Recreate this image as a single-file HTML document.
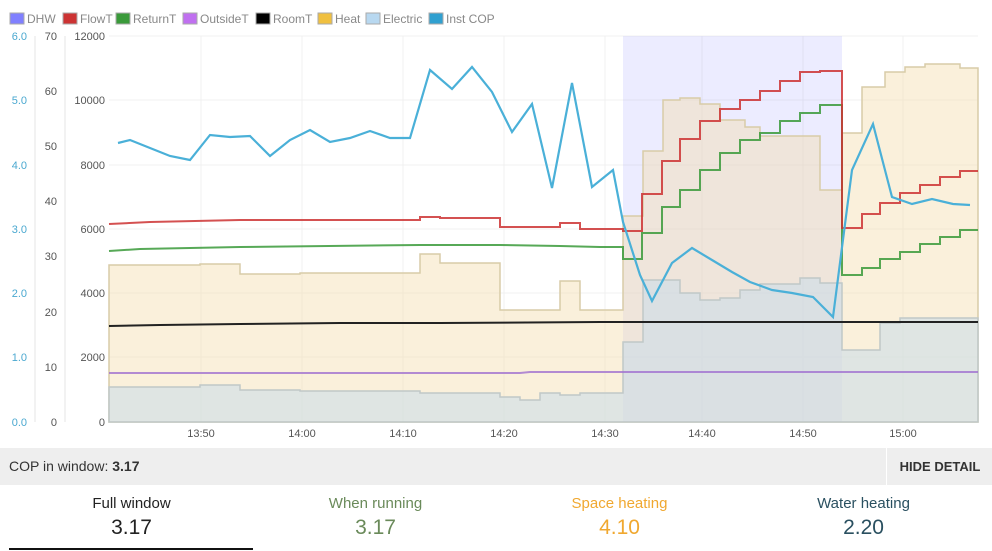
<!DOCTYPE html>
<html><head><meta charset="utf-8"><style>
body{margin:0;width:992px;height:551px;background:#fff;font-family:"Liberation Sans",sans-serif;overflow:hidden;position:relative}
.bar{position:absolute;left:0;top:448px;width:992px;height:37px;background:#eeeeee;font-size:14px;color:#333}
.bar .l{position:absolute;left:9px;top:10px}
.bar .r{position:absolute;left:886px;top:0;height:37px;border-left:1px solid #fff;width:106px;font-weight:bold;font-size:13px;line-height:37px;text-align:center;color:#333}
.st{position:absolute;top:495px;width:245px;text-align:center}
.st .a{font-size:15px}.st .b{font-size:21px;margin-top:4px}
</style></head><body>
<svg width="992" height="448" style="position:absolute;left:0;top:0" font-family="Liberation Sans, sans-serif">
<g font-size="12" fill="#888">
<rect x="10" y="13" width="14" height="11" fill="#8080ff" stroke="#aaa"/><text x="27" y="23">DHW</text>
<rect x="63" y="13" width="14" height="11" fill="#cc3333" stroke="#aaa"/><text x="80" y="23">FlowT</text>
<rect x="116" y="13" width="14" height="11" fill="#3a9a3a" stroke="#aaa"/><text x="133" y="23">ReturnT</text>
<rect x="183" y="13" width="14" height="11" fill="#c070f0" stroke="#aaa"/><text x="200" y="23">OutsideT</text>
<rect x="256" y="13" width="14" height="11" fill="#000" stroke="#aaa"/><text x="273" y="23">RoomT</text>
<rect x="318" y="13" width="14" height="11" fill="#f0c040" stroke="#aaa"/><text x="335" y="23">Heat</text>
<rect x="366" y="13" width="14" height="11" fill="#b8d8f0" stroke="#aaa"/><text x="383" y="23">Electric</text>
<rect x="429" y="13" width="14" height="11" fill="#30a0d0" stroke="#aaa"/><text x="446" y="23">Inst COP</text>
</g>
<line x1="35" y1="36" x2="35" y2="422" stroke="#e4e4e4"/>
<line x1="65" y1="36" x2="65" y2="422" stroke="#e4e4e4"/>
<g font-size="11" fill="#4aa8d0" text-anchor="end">
<text x="27" y="40">6.0</text><text x="27" y="104">5.0</text><text x="27" y="169">4.0</text><text x="27" y="233">3.0</text><text x="27" y="297">2.0</text><text x="27" y="361">1.0</text><text x="27" y="426">0.0</text></g>
<g font-size="11" fill="#555" text-anchor="end">
<text x="57" y="40">70</text><text x="57" y="95">60</text><text x="57" y="150">50</text><text x="57" y="205">40</text><text x="57" y="260">30</text><text x="57" y="316">20</text><text x="57" y="371">10</text><text x="57" y="426">0</text>
<text x="105" y="40">12000</text><text x="105" y="104">10000</text><text x="105" y="169">8000</text><text x="105" y="233">6000</text><text x="105" y="297">4000</text><text x="105" y="361">2000</text><text x="105" y="426">0</text></g>
<g stroke="#f0f0f0">
<line x1="109" y1="36" x2="978" y2="36"/><line x1="109" y1="100" x2="978" y2="100"/><line x1="109" y1="165" x2="978" y2="165"/><line x1="109" y1="229" x2="978" y2="229"/><line x1="109" y1="293" x2="978" y2="293"/><line x1="109" y1="357" x2="978" y2="357"/>
<line x1="201" y1="36" x2="201" y2="422"/><line x1="302" y1="36" x2="302" y2="422"/><line x1="403" y1="36" x2="403" y2="422"/><line x1="504" y1="36" x2="504" y2="422"/><line x1="605" y1="36" x2="605" y2="422"/><line x1="702" y1="36" x2="702" y2="422"/><line x1="803" y1="36" x2="803" y2="422"/><line x1="903" y1="36" x2="903" y2="422"/></g>
<rect x="623" y="36" width="219" height="386" fill="#8080ff" opacity="0.15"/>
<path d="M109,265 H200 V264 H240 V274 H300 V273 H420 V254 H440 V263 H500 V310 H560 V281 H580 V310 H623 V216 H643 V151 H663 V100 H680 V98 H700 V104 H720 V120 H745 V127 H760 V136 H820 V190 H842 V133 H862 V87 H885 V72 H905 V67 H925 V64 H960 V68 H978 V422 H109Z" fill="#f5deb0" fill-opacity="0.45" stroke="#d8cca8" stroke-width="1.5"/>
<path d="M109,387 H200 V385 H240 V390 H300 V391 H420 V393 H500 V397 H520 V400 H540 V393 H560 V395 H580 V393 H623 V342 H643 V280 H680 V293 H700 V300 H720 V298 H740 V290 H760 V284 H800 V278 H820 V283 H842 V350 H880 V323 H900 V318 H978 V422 H109Z" fill="#c8dcea" fill-opacity="0.55" stroke="#c0c8c8" stroke-width="1.5"/>
<polyline fill="none" stroke="#a070d0" stroke-width="2" opacity="0.8" points="109,373 520,373 530,372 978,372"/>
<polyline fill="none" stroke="#222" stroke-width="2" points="109,326 160,325 240,324 340,323 440,323 600,322 978,322"/>
<path d="M109,251 L140,249 240,247 420,245 500,245 560,246 600,247 623,247 V259 H642 V233 H662 V207 H680 V190 H700 V170 H720 V153 H740 V140 H760 V133 H780 V121 H800 V113 H820 V105 H842 V275 H862 V268 H880 V259 H900 V252 H920 V244 H940 V237 H960 V230 H978" fill="none" stroke="#3a9a3a" stroke-width="2" opacity="0.85"/>
<path d="M109,224 L150,222 240,220 H420 V217 H440 V218 H500 V227 H560 V223 H580 V229 H623 V231 H642 V194 H662 V161 H680 V139 H700 V121 H720 V109 H740 V100 H760 V91 H780 V81 H800 V72 H820 V71 H842 V228 H862 V214 H880 V203 H900 V193 H920 V185 H940 V177 H960 V171 H978" fill="none" stroke="#cc3333" stroke-width="2" opacity="0.85"/>
<polyline fill="none" stroke="#4ab0d8" stroke-width="2.2" points="118,143 130,140 150,148 170,156 190,160 210,135 230,137 250,136 270,156 290,140 310,130 330,142 350,138 370,131 390,138 410,138 430,70 452,89 472,67 492,92 512,132 532,104 552,188 572,83 592,187 613,170 623,222 640,275 652,301 672,263 692,248 712,260 732,272 750,282 772,290 792,293 813,297 833,317 852,170 873,124 892,197 912,204 932,199 953,204 970,205"/>
<g font-size="11" fill="#555" text-anchor="middle">
<text x="201" y="437">13:50</text><text x="302" y="437">14:00</text><text x="403" y="437">14:10</text><text x="504" y="437">14:20</text><text x="605" y="437">14:30</text><text x="702" y="437">14:40</text><text x="803" y="437">14:50</text><text x="903" y="437">15:00</text></g>
</svg>
<div class="bar"><span class="l">COP in window: <b>3.17</b></span><div class="r">HIDE DETAIL</div></div>
<div class="st" style="left:9px;color:#222"><div class="a">Full window</div><div class="b">3.17</div></div>
<div style="position:absolute;left:9px;top:548px;width:244px;height:2px;background:#111"></div>
<div class="st" style="left:253px;color:#6a8a5a"><div class="a">When running</div><div class="b">3.17</div></div>
<div class="st" style="left:497px;color:#f0a830"><div class="a">Space heating</div><div class="b">4.10</div></div>
<div class="st" style="left:741px;color:#2a5060"><div class="a">Water heating</div><div class="b">2.20</div></div>
</body></html>
